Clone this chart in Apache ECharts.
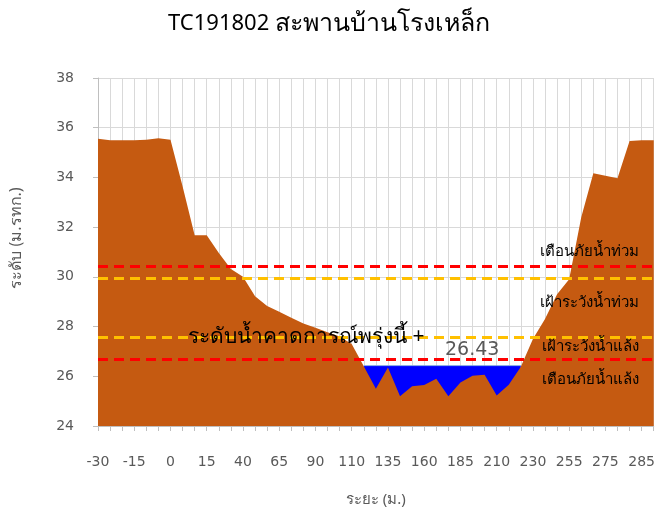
<!DOCTYPE html>
<html>
<head>
<meta charset="utf-8">
<script src="https://cdn.jsdelivr.net/npm/echarts@6/dist/echarts.min.js"></script>
<style>
  html, body { margin: 0; padding: 0; background: #fff; }
  #chart { width: 658px; height: 512px; }
</style>
</head>
<body>
<div id="chart"></div>
<script>
// ระยะ (ม.) of each surveyed point, only every 3rd one is labelled
const distances = [-30, -25, -20, -15, -10, -5, 0, 5, 10, 15, 20, 30, 40, 50, 55, 65, 70, 80, 90, 95,
  100, 110, 120, 125, 135, 140, 150, 160, 165, 175, 185, 190, 200, 210, 215, 220, 230, 240, 245, 255,
  260, 270, 275, 280, 283, 285, 290];

// ระดับตลิ่ง/ท้องน้ำ (ม.รทก.)
const ground = [35.56, 35.5, 35.5, 35.5, 35.52, 35.58, 35.52, 33.65, 31.67, 31.67,
  30.96, 30.32, 30.0, 29.22, 28.83, 28.6, 28.35, 28.12, 27.95, 27.77,
  27.6, 27.3, 26.4, 25.5, 26.35, 25.2, 25.6, 25.65, 25.9, 25.2,
  25.75, 26.02, 26.06, 25.23, 25.66, 26.38, 27.5, 28.3, 29.3, 29.9,
  32.4, 34.17, 34.07, 33.97, 35.47, 35.5, 35.5];

// ระดับน้ำคาดการณ์พรุ่งนี้
const waterLevel = 26.43;

// เกณฑ์เตือนภัย
const levelNames = ['เตือนภัยน้ำท่วม', 'เฝ้าระวังน้ำท่วม', 'เฝ้าระวังน้ำแล้ง', 'เตือนภัยน้ำแล้ง'];
const levelValues = [30.43, 29.93, 27.58, 26.68];
const levelColors = ['#ff0000', '#ffc000', '#ffc000', '#ff0000'];
const levelLabelPos = ['insideEndTop', 'insideEndBottom', 'insideEndBottom', 'insideEndBottom'];
const levelLabelGap = [7, 17, 2, 13];

const yTicks = { min: 24, max: 38, interval: 2 };

const water = ground.map(g => (g < waterLevel ? waterLevel : null));

const thaiFont = '"Noto Sans", "DejaVu Sans", sans-serif';

const chart = echarts.init(document.getElementById('chart'));

const option = {
  animation: false,
  title: {
    text: '{a|TC191802 }{b|สะพานบ้านโรงเหล็ก}',
    left: 'center',
    top: 6,
    textStyle: {
      fontWeight: 'normal',
      rich: {
        a: { fontFamily: thaiFont, fontSize: 22, fontWeight: 'normal', color: '#000' },
        b: { fontFamily: thaiFont, fontSize: 25, fontWeight: 'normal', color: '#000' }
      }
    }
  },
  grid: { left: 97, right: 3, top: 78, bottom: 82 },
  xAxis: {
    type: 'category',
    data: distances,
    boundaryGap: false,
    name: 'ระยะ (ม.)',
    nameLocation: 'middle',
    nameGap: 66,
    nameTextStyle: { fontFamily: thaiFont, fontSize: 15, color: '#595959' },
    axisLine: { lineStyle: { color: '#bfbfbf' } },
    axisTick: { interval: 0, length: 5, lineStyle: { color: '#bfbfbf' } },
    axisLabel: { interval: 2, margin: 29, fontFamily: 'DejaVu Sans', fontSize: 14, color: '#595959' },
    splitLine: { show: true, interval: 0, lineStyle: { color: '#d9d9d9' } }
  },
  yAxis: {
    type: 'value',
    min: yTicks.min,
    max: yTicks.max,
    interval: yTicks.interval,
    name: 'ระดับ (ม.รทก.)',
    nameLocation: 'middle',
    nameGap: 74,
    nameTextStyle: { fontFamily: thaiFont, fontSize: 16, color: '#595959', padding: [0, 0, 0, 28] },
    axisLine: { show: true, lineStyle: { color: '#bfbfbf' } },
    axisTick: { show: true, length: 5, lineStyle: { color: '#bfbfbf' } },
    axisLabel: { margin: 24, fontFamily: 'DejaVu Sans', fontSize: 14, color: '#595959' },
    splitLine: { lineStyle: { color: '#d9d9d9' } }
  },
  series: [
    {
      name: 'น้ำ',
      type: 'line',
      data: water,
      symbol: 'none',
      lineStyle: { color: '#8fb4e3', width: 1 },
      areaStyle: { color: '#0000ff', origin: 'start', opacity: 1 }
    },
    {
      name: 'ตลิ่ง',
      type: 'line',
      data: ground,
      symbol: 'none',
      lineStyle: { width: 0, color: '#c55a11' },
      areaStyle: { color: '#c55a11', origin: 'start', opacity: 1 },
      markLine: {
        silent: true,
        symbol: ['none', 'none'],
        data: levelValues.map((v, i) => ({
          yAxis: v,
          lineStyle: { color: levelColors[i], type: [10, 6], width: 3 },
          label: {
            show: true,
            position: levelLabelPos[i],
            distance: [15, levelLabelGap[i]],
            formatter: levelNames[i],
            fontFamily: thaiFont,
            fontSize: 15,
            color: '#000'
          }
        }))
      }
    }
  ],
  graphic: [
    {
      type: 'text',
      z: 100,
      left: 188,
      top: 327,
      style: { text: 'ระดับน้ำคาดการณ์พรุ่งนี้ +', font: '21px ' + thaiFont, fill: '#000' }
    },
    {
      type: 'text',
      z: 100,
      left: 445,
      top: 341,
      style: { text: String(waterLevel), font: '19px "DejaVu Sans"', fill: '#595959' }
    }
  ]
};

chart.setOption(option);
</script>
</body>
</html>
